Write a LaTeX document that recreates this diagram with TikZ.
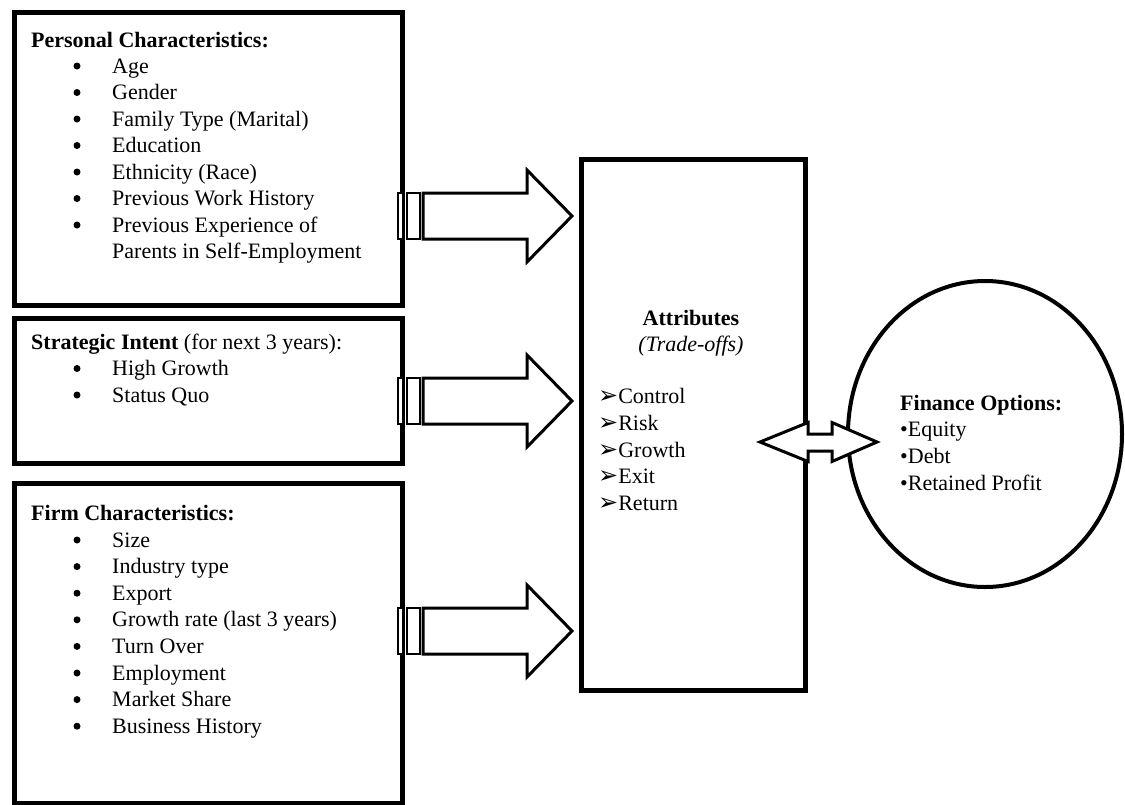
\documentclass[tikz,border=0pt]{standalone}
\usepackage{fontspec}
\setmainfont{Liberation Serif}
\newfontfamily\dingfont{DejaVu Sans}
\usetikzlibrary{shapes.geometric}
\newcommand\sarrow[1]{%
  \begin{scope}[shift={(0,#1)}]
  \draw[arr, line width=2.5pt] (398,-23) rectangle (403,23);
  \draw[arr, line width=2.5pt] (407,-23) rectangle (420,23);
  \draw[arr] (423,-23) -- (527,-23) -- (527,-46) -- (572,0) -- (527,46) -- (527,23) -- (423,23) -- cycle;
  \end{scope}}
\newcommand\arrowbullet{{\dingfont\fontsize{24}{24}\selectfont ➢}}
\begin{document}
\begin{tikzpicture}[x=1pt,y=-1pt,
  box/.style={draw, line width=4.8pt, rectangle, inner sep=0pt, anchor=north west},
  arr/.style={draw, fill=white, line width=3pt, line join=miter},
  dot/.style={circle, fill, inner sep=0pt, minimum size=7pt},
  txt/.style={inner sep=0pt, anchor=base west, font=\fontsize{22}{26}\selectfont},
  ctxt/.style={inner sep=0pt, anchor=base, font=\fontsize{22}{26}\selectfont}]
\useasboundingbox (0,0) rectangle (1125,804);
% boxes
\node[box, minimum width=388pt, minimum height=293pt] (personal) at (12,10) {};
\node[box, minimum width=388pt, minimum height=145pt] (strategic) at (12,316) {};
\node[box, minimum width=388pt, minimum height=320pt] (firm) at (12,481) {};
\node[box, line width=5pt, minimum width=224pt, minimum height=531pt] (attr) at (579,157) {};
\node[draw, line width=4pt, ellipse, minimum width=274pt, minimum height=306pt] (fin) at (985,434) {};
% personal text
\node[txt] (ph) at (31,47) {\textbf{Personal Characteristics:}};
\foreach \t [count=\i] in {Age, Gender, Family Type (Marital), Education, Ethnicity (Race), Previous Work History, Previous Experience of}{
  \node[dot] (pb\i) at (77,39.5+26.5*\i) {};
  \node[txt] (pi\i) at (112,46.5+26.5*\i) {\t};
}
\node[txt] (pi8) at (112,258.5) {Parents in Self-Employment};
% strategic text
\node[txt] (sh) at (31,349) {\textbf{Strategic Intent} (for next 3 years):};
\foreach \t [count=\i] in {High Growth, Status Quo}{
  \node[dot] (sb\i) at (77,342+26.5*\i) {};
  \node[txt] (si\i) at (112,349+26.5*\i) {\t};
}
% firm text
\node[txt] (fh) at (31,520) {\textbf{Firm Characteristics:}};
\foreach \t [count=\i] in {Size, Industry type, Export, Growth rate (last 3 years), Turn Over, Employment, Market Share, Business History}{
  \node[dot] (fb\i) at (77,513.4+26.6*\i) {};
  \node[txt] (fi\i) at (112,520.4+26.6*\i) {\t};
}
% attributes text
\node[ctxt] (ah) at (691,325) {\textbf{Attributes}};
\node[ctxt] (as) at (691,351) {\textit{(Trade-offs)}};
\foreach \t [count=\i] in {Control, Risk, Growth, Exit, Return}{
  \node[txt] (ai\i) at (598,377+26.7*\i) {\arrowbullet\t};
}
% finance text
\node[txt] (finh) at (900,410) {\textbf{Finance Options:}};
\foreach \t [count=\i] in {Equity, Debt, Retained Profit}{
  \node[txt] (fo\i) at (900,410+26.7*\i) {•\t};
}
% arrows
\sarrow{216}
\sarrow{401}
\sarrow{631}
\draw[arr] (760,442) -- (808,422.5) -- (808,434) -- (832,434) -- (832,422.5) -- (877,442) -- (832,461.5) -- (832,451) -- (808,451) -- (808,461.5) -- cycle;
\end{tikzpicture}
\end{document}
